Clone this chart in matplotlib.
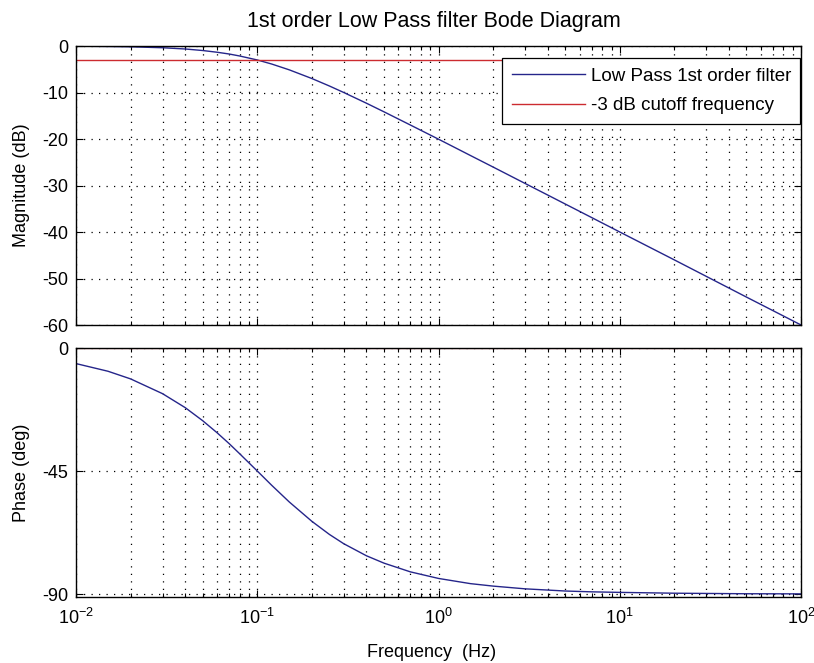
import numpy as np
import matplotlib
matplotlib.use("Agg")
import matplotlib.pyplot as plt
from matplotlib.ticker import LogLocator, NullFormatter, FixedLocator

plt.rcParams['font.family'] = ['Liberation Sans', 'DejaVu Sans']
plt.rcParams['mathtext.fontset'] = 'custom'
plt.rcParams['mathtext.rm'] = 'Liberation Sans'
plt.rcParams['axes.unicode_minus'] = False

# values
freq = [0.01, 0.015, 0.02, 0.03, 0.04, 0.05, 0.06, 0.07, 0.08, 0.1, 0.12, 0.15,
        0.2, 0.25, 0.3, 0.4, 0.5, 0.7, 1, 1.5, 2, 3, 5, 7, 10, 20, 50, 100]
magnitude_db = [-0.04, -0.1, -0.17, -0.37, -0.64, -0.97, -1.34, -1.72, -2.15, -3.0,
                -3.87, -5.12, -6.99, -8.6, -10.0, -12.3, -14.15, -17.0, -20.04,
                -23.55, -26.03, -29.55, -33.98, -36.9, -40.0, -46.0, -54.0, -60.0]
phase_deg = [-5.7, -8.5, -11.3, -16.7, -21.8, -26.6, -31.0, -35.0, -38.7, -45.0,
             -50.2, -56.3, -63.4, -68.2, -71.6, -76.0, -78.7, -81.9, -84.3,
             -86.2, -87.1, -88.1, -88.9, -89.2, -89.4, -89.7, -89.9, -89.94]
cutoff_freq = [0.01, 100]
cutoff_db = [-3, -3]
cutoff_phase = [0, 0]

mag_ticks = [0, -10, -20, -30, -40, -50, -60]
phase_ticks = [0, -45, -90]

blue = '#25258a'
red = '#cc2b30'
dots = (0, (1, 5))
fs = 13


def style_axes(ax):
    ax.set_xscale('log')
    ax.set_xlim(0.01, 100)
    ax.xaxis.set_major_locator(LogLocator(base=10, numticks=10))
    ax.xaxis.set_minor_locator(LogLocator(base=10, subs=np.arange(2, 10), numticks=20))
    ax.xaxis.set_minor_formatter(NullFormatter())
    ax.tick_params(which='both', direction='in', top=True, right=True,
                   labelsize=fs, width=0.8)
    ax.tick_params(which='major', length=5, pad=5.5)
    ax.tick_params(which='minor', length=3)
    ax.grid(True, which='major', color='black', linestyle=dots, linewidth=0.9)
    ax.grid(True, which='minor', axis='x', color='black', linestyle=dots, linewidth=0.9)
    for s in ax.spines.values():
        s.set_linewidth(1.0)


fig = plt.figure(figsize=(8.14, 6.63), dpi=100)
ax1 = fig.add_axes([0.0934, 0.5098, 0.8907, 0.4208])
ax2 = fig.add_axes([0.0934, 0.0995, 0.8907, 0.3756])

ax1.plot(freq, magnitude_db, color=blue, linewidth=1.0, label='Low Pass 1st order filter')
ax1.plot(cutoff_freq, cutoff_db, color=red, linewidth=1.0, label='-3 dB cutoff frequency')
style_axes(ax1)
ax1.set_ylim(-60, 0)
ax1.yaxis.set_major_locator(FixedLocator(mag_ticks))
ax1.set_xticklabels([])
ax1.set_ylabel('Magnitude (dB)', fontsize=fs)
ax1.yaxis.set_label_coords(-0.063, 0.5)
leg = ax1.legend(loc='upper right', bbox_to_anchor=(0.999, 0.957), borderaxespad=0,
                 fontsize=13.5, fancybox=False, framealpha=1, edgecolor='black',
                 handlelength=3.9, handletextpad=0.3, borderpad=0.5,
                 labelspacing=0.68)
leg.get_frame().set_linewidth(0.9)

ax2.plot(freq, phase_deg, color=blue, linewidth=1.0)
ax2.plot(cutoff_freq, cutoff_phase, color=red, linewidth=1.6)
style_axes(ax2)
ax2.set_ylim(-91.1, 0)
ax2.yaxis.set_major_locator(FixedLocator(phase_ticks))
ax2.tick_params(axis='x', which='major', pad=8)
ax2.set_ylabel('Phase (deg)', fontsize=fs)
ax2.yaxis.set_label_coords(-0.063, 0.5)
ax2.set_xlabel('Frequency  (Hz)', fontsize=fs)
ax2.xaxis.set_label_coords(0.49, -0.19)

fig.text(0.533, 1 - 22 / 663, '1st order Low Pass filter Bode Diagram',
         ha='center', va='center', fontsize=15.5)

fig.savefig('out.png', dpi=100)
